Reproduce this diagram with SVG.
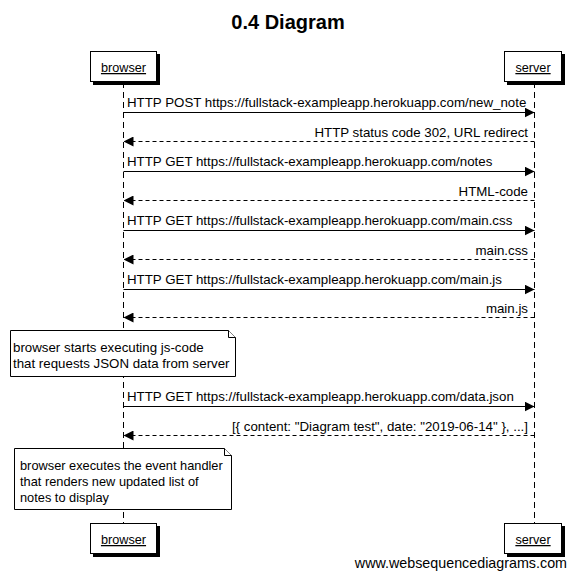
<svg xmlns="http://www.w3.org/2000/svg" width="576" height="578" viewBox="0 0 576 578">
<style>
text{font-family:"Liberation Sans",Arial,sans-serif;font-size:13.3px;fill:#000}
.title{font-size:20px;font-weight:bold}
.lbl{font-size:12.7px}
.n2{font-size:12.8px}
.box{fill:#fff;stroke:#000;stroke-width:1}
.shadow{fill:#000}
.life{stroke:#000;stroke-width:1;stroke-dasharray:6,4;fill:none}
.msg{stroke:#000;stroke-width:1;fill:none}
.ret{stroke:#000;stroke-width:1;fill:none;stroke-dasharray:4,3}
.note{fill:#fff;stroke:#000;stroke-width:1}
</style>
<defs>
<marker id="ah" markerWidth="10" markerHeight="10" refX="10" refY="5" orient="auto" markerUnits="userSpaceOnUse">
<path d="M0,0 L10,5 L0,10 z" fill="#000"/>
</marker>
</defs>
<rect width="576" height="578" fill="#fff"/>
<text class="title" x="288" y="29" text-anchor="middle">0.4 Diagram</text>
<g id="lifelines">
<line class="life" x1="123.5" y1="82" x2="123.5" y2="523"/>
<line class="life" x1="534.5" y1="82" x2="534.5" y2="523"/>
</g>
<g id="browser">
<rect class="shadow" x="93" y="54" width="67" height="31"/>
<rect class="box" x="90.5" y="51.5" width="66" height="30"/>
<text class="lbl" x="123.5" y="72" text-anchor="middle" text-decoration="underline">browser</text>
</g>
<g id="server">
<rect class="shadow" x="507" y="54" width="58" height="31"/>
<rect class="box" x="504.5" y="51.5" width="57" height="30"/>
<text class="lbl" x="533" y="72" text-anchor="middle" text-decoration="underline">server</text>
</g>
<g id="browser-bottom">
<rect class="shadow" x="93" y="526" width="67" height="31"/>
<rect class="box" x="90.5" y="523.5" width="66" height="30"/>
<text class="lbl" x="123.5" y="544" text-anchor="middle" text-decoration="underline">browser</text>
</g>
<g id="server-bottom">
<rect class="shadow" x="507" y="526" width="58" height="31"/>
<rect class="box" x="504.5" y="523.5" width="57" height="30"/>
<text class="lbl" x="533" y="544" text-anchor="middle" text-decoration="underline">server</text>
</g>
<g id="connectors">
<line class="msg" x1="123.5" y1="112.5" x2="534.5" y2="112.5" marker-end="url(#ah)"/>
<text x="127" y="107">HTTP POST https://fullstack-exampleapp.herokuapp.com/new_note</text>
<line class="ret" x1="534.5" y1="141.5" x2="123.5" y2="141.5" marker-end="url(#ah)"/>
<text x="528" y="137" text-anchor="end">HTTP status code 302, URL redirect</text>
<line class="msg" x1="123.5" y1="171.5" x2="534.5" y2="171.5" marker-end="url(#ah)"/>
<text x="127" y="166">HTTP GET https://fullstack-exampleapp.herokuapp.com/notes</text>
<line class="ret" x1="534.5" y1="200.5" x2="123.5" y2="200.5" marker-end="url(#ah)"/>
<text x="528" y="196" text-anchor="end">HTML-code</text>
<line class="msg" x1="123.5" y1="230.5" x2="534.5" y2="230.5" marker-end="url(#ah)"/>
<text x="127" y="225">HTTP GET https://fullstack-exampleapp.herokuapp.com/main.css</text>
<line class="ret" x1="534.5" y1="259.5" x2="123.5" y2="259.5" marker-end="url(#ah)"/>
<text x="528" y="255" text-anchor="end">main.css</text>
<line class="msg" x1="123.5" y1="289.5" x2="534.5" y2="289.5" marker-end="url(#ah)"/>
<text x="127" y="284">HTTP GET https://fullstack-exampleapp.herokuapp.com/main.js</text>
<line class="ret" x1="534.5" y1="317.5" x2="123.5" y2="317.5" marker-end="url(#ah)"/>
<text x="528" y="313" text-anchor="end">main.js</text>
<line class="msg" x1="123.5" y1="406.5" x2="534.5" y2="406.5" marker-end="url(#ah)"/>
<text x="127" y="401">HTTP GET https://fullstack-exampleapp.herokuapp.com/data.json</text>
<line class="ret" x1="534.5" y1="435.5" x2="123.5" y2="435.5" marker-end="url(#ah)"/>
<text x="528" y="431" text-anchor="end">[{ content: "Diagram test", date: "2019-06-14" }, ...]</text>
</g>
<g id="note1">
<path class="note" d="M10.5,330.5 H228.5 L235.5,337.5 V376.5 H10.5 Z"/>
<path class="note" d="M228.5,330.5 V337.5 H235.5" fill="none"/>
<text x="13" y="352">browser starts executing js-code</text>
<text x="13" y="368">that requests JSON data from server</text>
</g>
<g id="note2">
<path class="note" d="M14.5,448.5 H224.5 L231.5,455.5 V509.5 H14.5 Z"/>
<path class="note" d="M224.5,448.5 V455.5 H231.5" fill="none"/>
<text class="n2" x="20" y="470">browser executes the event handler</text>
<text class="n2" x="20" y="486">that renders new updated list of</text>
<text class="n2" x="20" y="502">notes to display</text>
</g>
<text x="567" y="568" text-anchor="end" style="font-size:14.3px">www.websequencediagrams.com</text>
</svg>
